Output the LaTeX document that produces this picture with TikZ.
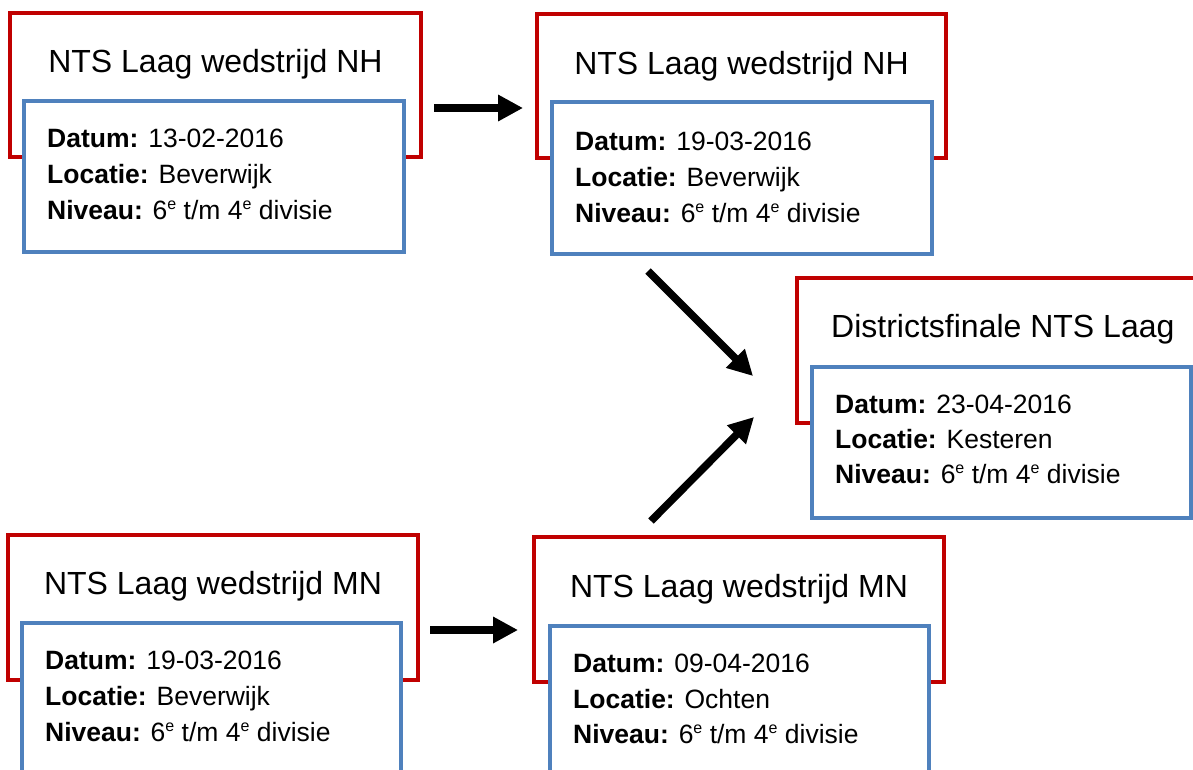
\documentclass[tikz,border=0pt]{standalone}
\usepackage{fontspec}
\setmainfont{Liberation Sans}
\usetikzlibrary{arrows.meta}
\definecolor{boxred}{HTML}{C00000}
\definecolor{boxblue}{HTML}{4F81BD}
\newcommand{\supe}{\raisebox{10pt}{\fontsize{16}{16}\selectfont e}}
\begin{document}
\begin{tikzpicture}[x=1pt,y=-1pt,
  redbox/.style={draw=boxred, line width=3.2pt, fill=white, anchor=north west, inner sep=0pt, outer sep=0pt},
  bluebox/.style={draw=boxblue, line width=3.2pt, fill=white, anchor=north west, inner sep=0pt, outer sep=0pt},
  titletext/.style={font=\fontsize{32}{38}\selectfont, anchor=base, inner sep=0pt},
  infotext/.style={font=\fontsize{26.5}{36}\selectfont, anchor=base west, inner sep=0pt},
  flow/.style={line width=7.5pt, -{Triangle[length=25pt,width=25pt]}},
  flowshadow/.style={line width=7.5pt, -{Triangle[length=25pt,width=25pt]}, draw=black!35, fill=black!35, opacity=0.45},
]
\useasboundingbox (0,0) rectangle (1193,769);

% ---- Box 1
\node[redbox, minimum width=411pt, minimum height=144pt] (r1) at (10,13) {};
\node[titletext] (t1) at (215.5,72) {NTS Laag wedstrijd NH};
\node[bluebox, minimum width=380pt, minimum height=151pt] (b1) at (24,101) {};
\node[infotext] (d1) at (47,147) {\textbf{Datum:} 13-02-2016};
\node[infotext] (l1) at (47,183) {\textbf{Locatie:} Beverwijk};
\node[infotext] (n1) at (47,219) {\textbf{Niveau:} 6\supe{} t/m 4\supe{} divisie};

% ---- Box 2
\node[redbox, minimum width=409pt, minimum height=144pt] (r2) at (537,14) {};
\node[titletext] (t2) at (741.5,74) {NTS Laag wedstrijd NH};
\node[bluebox, minimum width=380pt, minimum height=152pt] (b2) at (552,102) {};
\node[infotext] (d2) at (575,150) {\textbf{Datum:} 19-03-2016};
\node[infotext] (l2) at (575,186) {\textbf{Locatie:} Beverwijk};
\node[infotext] (n2) at (575,222) {\textbf{Niveau:} 6\supe{} t/m 4\supe{} divisie};

% ---- Box 3
\node[redbox, minimum width=411pt, minimum height=145pt] (r3) at (797,278) {};
\node[titletext, anchor=base west] (t3) at (831,337) {Districtsfinale NTS Laag};
\node[bluebox, minimum width=379pt, minimum height=151pt] (b3) at (812,367) {};
\node[infotext] (d3) at (835,413) {\textbf{Datum:} 23-04-2016};
\node[infotext] (l3) at (835,448) {\textbf{Locatie:} Kesteren};
\node[infotext] (n3) at (835,483) {\textbf{Niveau:} 6\supe{} t/m 4\supe{} divisie};

% ---- Box 4
\node[redbox, minimum width=410pt, minimum height=145pt] (r4) at (8,535) {};
\node[titletext] (t4) at (213,594) {NTS Laag wedstrijd MN};
\node[bluebox, minimum width=379pt, minimum height=152pt] (b4) at (22,623) {};
\node[infotext] (d4) at (45,669) {\textbf{Datum:} 19-03-2016};
\node[infotext] (l4) at (45,705) {\textbf{Locatie:} Beverwijk};
\node[infotext] (n4) at (45,741) {\textbf{Niveau:} 6\supe{} t/m 4\supe{} divisie};

% ---- Box 5
\node[redbox, minimum width=410pt, minimum height=145pt] (r5) at (534,537) {};
\node[titletext] (t5) at (739,597) {NTS Laag wedstrijd MN};
\node[bluebox, minimum width=379pt, minimum height=152pt] (b5) at (550,626) {};
\node[infotext] (d5) at (573,672) {\textbf{Datum:} 09-04-2016};
\node[infotext] (l5) at (573,708) {\textbf{Locatie:} Ochten};
\node[infotext] (n5) at (573,743) {\textbf{Niveau:} 6\supe{} t/m 4\supe{} divisie};

% ---- Arrow end points
\coordinate (a1s) at (434,108);
\coordinate (a1e) at (523,108);
\coordinate (a2s) at (648,271);
\coordinate (a2e) at (753,376);
\coordinate (a3s) at (651,521);
\coordinate (a3e) at (754,417);
\coordinate (a4s) at (430,630);
\coordinate (a4e) at (518,630);

% shadows
\begin{scope}[shift={(2,3)}]
\draw[flowshadow] (a1s) -- (a1e);
\draw[flowshadow] (a2s) -- (a2e);
\draw[flowshadow] (a3s) -- (a3e);
\draw[flowshadow] (a4s) -- (a4e);
\end{scope}
% arrows
\draw[flow] (a1s) -- (a1e);
\draw[flow] (a2s) -- (a2e);
\draw[flow] (a3s) -- (a3e);
\draw[flow] (a4s) -- (a4e);
\end{tikzpicture}
\end{document}
